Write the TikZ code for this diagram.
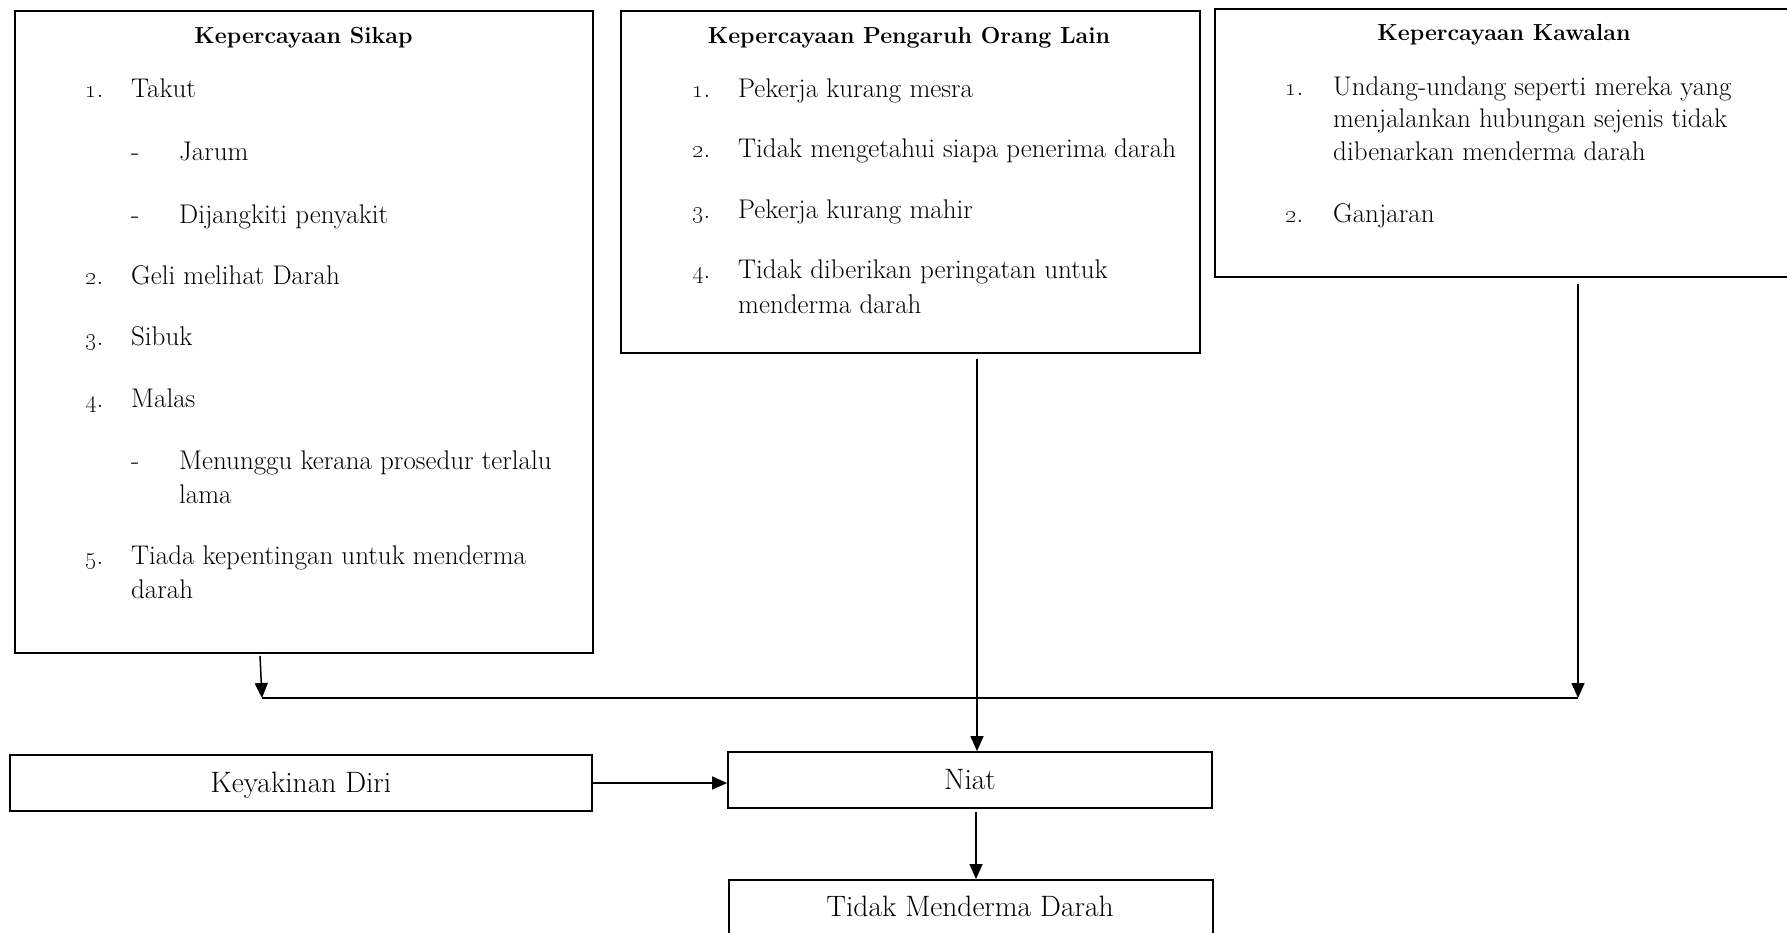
\documentclass[tikz,border=0pt]{standalone}
\usetikzlibrary{arrows.meta}
\tikzset{
  boxs/.style={draw, line width=1.8pt, rectangle, inner sep=0pt},
  itm/.style={anchor=base west, inner sep=0pt, font=\fontsize{27}{34}\selectfont},
  ttl/.style={anchor=base, inner sep=0pt, font=\fontsize{23.2}{30}\selectfont\bfseries},
  lbl/.style={boxs, font=\fontsize{29.5}{36}\selectfont, text height=21pt, text depth=2pt},
  arr/.style={line width=1.5pt, -{Triangle[length=15pt,width=13pt]}},
  ln/.style={line width=1.5pt}
}
\newcommand{\osn}[1]{\oldstylenums{#1}.}
\begin{document}
\begin{tikzpicture}[x=1pt,y=-1pt]
\useasboundingbox (0,0) rectangle (1787,932);
% boxes
\node[boxs, anchor=north west, minimum width=578pt, minimum height=642pt] (b1) at (14,10) {};
\node[boxs, anchor=north west, minimum width=579pt, minimum height=342pt] (b2) at (620,10) {};
\node[boxs, anchor=north west, minimum width=573pt, minimum height=268pt] (b3) at (1214,8) {};
\node[lbl, minimum width=582pt, minimum height=56pt] (kd) at (301,783) {Keyakinan Diri};
\node[lbl, minimum width=484pt, minimum height=56pt] (niat) at (970,780) {Niat};
\node[boxs, anchor=north west, minimum width=484pt, minimum height=70pt] (tmd) at (728,879) {};
\node[anchor=base, inner sep=0pt, font=\fontsize{29.5}{36}\selectfont] (tmdt) at (970,916.5) {Tidak Menderma Darah};
% box 1 text
\node[ttl] (t1) at (303.5,43) {Kepercayaan Sikap};
\node[itm] (s1n) at (85,97) {\osn{1}};
\node[itm] (s1) at (131,97) {Takut};
\node[itm] (s1an) at (131,160) {-};
\node[itm] (s1a) at (179,160) {Jarum};
\node[itm] (s1bn) at (131,223) {-};
\node[itm] (s1b) at (179,223) {Dijangkiti penyakit};
\node[itm] (s2n) at (85,284) {\osn{2}};
\node[itm] (s2) at (131,284) {Geli melihat Darah};
\node[itm] (s3n) at (85,345) {\osn{3}};
\node[itm] (s3) at (131,345) {Sibuk};
\node[itm] (s4n) at (85,407) {\osn{4}};
\node[itm] (s4) at (131,407) {Malas};
\node[itm] (s4an) at (131,469.5) {-};
\node[itm] (s4a) at (179,469.5) {Menunggu kerana prosedur terlalu};
\node[itm] (s4b) at (179,503) {lama};
\node[itm] (s5n) at (85,564.5) {\osn{5}};
\node[itm] (s5) at (131,564.5) {Tiada kepentingan untuk menderma};
\node[itm] (s5b) at (131,598) {darah};
% box 2 text
\node[ttl] (t2) at (909,43) {Kepercayaan Pengaruh Orang Lain};
\node[itm] (p1n) at (692,97) {\osn{1}};
\node[itm] (p1) at (738,97) {Pekerja kurang mesra};
\node[itm] (p2n) at (692,157) {\osn{2}};
\node[itm] (p2) at (738,157) {Tidak mengetahui siapa penerima darah};
\node[itm] (p3n) at (692,218) {\osn{3}};
\node[itm] (p3) at (738,218) {Pekerja kurang mahir};
\node[itm] (p4n) at (692,278) {\osn{4}};
\node[itm] (p4) at (738,278) {Tidak diberikan peringatan untuk};
\node[itm] (p4b) at (738,313) {menderma darah};
% box 3 text
\node[ttl] (t3) at (1504,40) {Kepercayaan Kawalan};
\node[itm] (k1n) at (1285,95) {\osn{1}};
\node[itm] (k1) at (1333,95) {Undang-undang seperti mereka yang};
\node[itm] (k1b) at (1333,127) {menjalankan hubungan sejenis tidak};
\node[itm] (k1c) at (1333,160) {dibenarkan menderma darah};
\node[itm] (k2n) at (1285,222) {\osn{2}};
\node[itm] (k2) at (1333,222) {Ganjaran};
% connectors
\coordinate (j1) at (262,698);
\coordinate (j2) at (1578,698);
\draw[arr] (b1.south west) ++(246,2) -- (j1);
\draw[ln] (j1) -- (j2);
\draw[arr] (b3.south west) ++(364,6) -- (j2);
\draw[arr] (b2.south west) ++(357,5) -- (niat.north -| 977,0);
\draw[arr] (kd.east) -- (niat.west |- kd.east);
\draw[arr] (niat.south -| 976,0) ++(0,3) -- (tmd.north -| 976,0);
\end{tikzpicture}
\end{document}
